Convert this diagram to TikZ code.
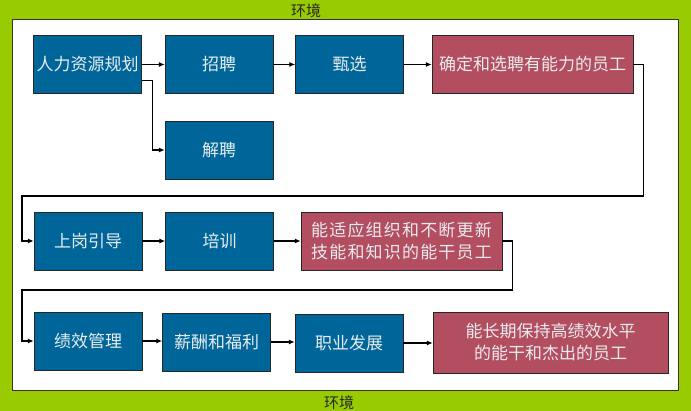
\documentclass[tikz,border=0pt]{standalone}
\usepackage{fontspec}
\newfontfamily\cjk{Noto Sans CJK SC}
\usetikzlibrary{arrows.meta}
\definecolor{envgreen}{HTML}{99CC00}
\definecolor{stepblue}{HTML}{006699}
\definecolor{goalred}{HTML}{B34E60}
\definecolor{boxtext}{HTML}{E8ECEF}
\begin{document}
\begin{tikzpicture}[x=1pt, y=-1pt,
    stepbox/.style={draw=black!85, fill=stepblue, text=boxtext, inner sep=0pt,
        minimum width=108pt, minimum height=58pt, font=\cjk\fontsize{17}{22}\selectfont},
    goalbox/.style={stepbox, fill=goalred, align=center},
    link/.style={-{Latex[length=6pt,width=5pt]}, line width=1.3pt}]
    \useasboundingbox (0,0) rectangle (691,411);
    \fill[envgreen] (0,0) rectangle (691,411);
    \draw[fill=white, draw=black!80] (12,19.5) rectangle (678,390);
    \node[font=\cjk\fontsize{15}{18}\selectfont, text=black!85] (envtop) at (306,11) {环境};
    \node[font=\cjk\fontsize{15}{18}\selectfont, text=black!85] (envbot) at (339,403) {环境};

    % first row
    \node[stepbox] (plan) at (87.5,64.5) {人力资源规划};
    \node[stepbox] (recruit) at (219,64.5) {招聘};
    \node[stepbox] (select) at (349.5,64.5) {甄选};
    \node[goalbox, minimum width=201pt] (able) at (532.5,64.5) {确定和选聘有能力的员工};
    \node[stepbox] (dismiss) at (219,150) {解聘};

    % second row
    \node[stepbox] (orient) at (88,241) {上岗引导};
    \node[stepbox] (train) at (219.5,241) {培训};
    \node[goalbox, minimum width=201pt, font=\cjk\fontsize{17}{22}\selectfont\addfontfeature{LetterSpace=7}]
        (skilled) at (401.5,241) {能适应组织和不断更新\\技能和知识的能干员工};

    % third row
    \node[stepbox] (perf) at (88,341) {绩效管理};
    \node[stepbox] (pay) at (216.5,342) {薪酬和福利};
    \node[stepbox] (career) at (349,343) {职业发展};
    \node[goalbox, minimum width=235pt, minimum height=61pt] (top) at (550.5,342.5) {能长期保持高绩效水平\\的能干和杰出的员工};

    \coordinate (turnA) at (22,196);
    \coordinate (turnB) at (22,290);

    \draw[link] (plan) -- (recruit);
    \draw[link] ([yshift=-16pt]plan.east) -- ++(11,0) |- (dismiss.west);
    \draw[link] (recruit) -- (select);
    \draw[link] (select) -- (able);
    \draw[link] (able.east) -- ++(10,0) |- (turnA) |- (orient.west);
    \draw[link] (orient) -- (train);
    \draw[link] (train) -- (skilled);
    \draw[link] (skilled.east) -- ++(10,0) |- (turnB) |- (perf.west);
    \draw[link] (perf.east) -- (perf.east -| pay.west);
    \draw[link] (pay.east) -- (pay.east -| career.west);
    \draw[link] (career.east) -- (career.east -| top.west);
\end{tikzpicture}
\end{document}
